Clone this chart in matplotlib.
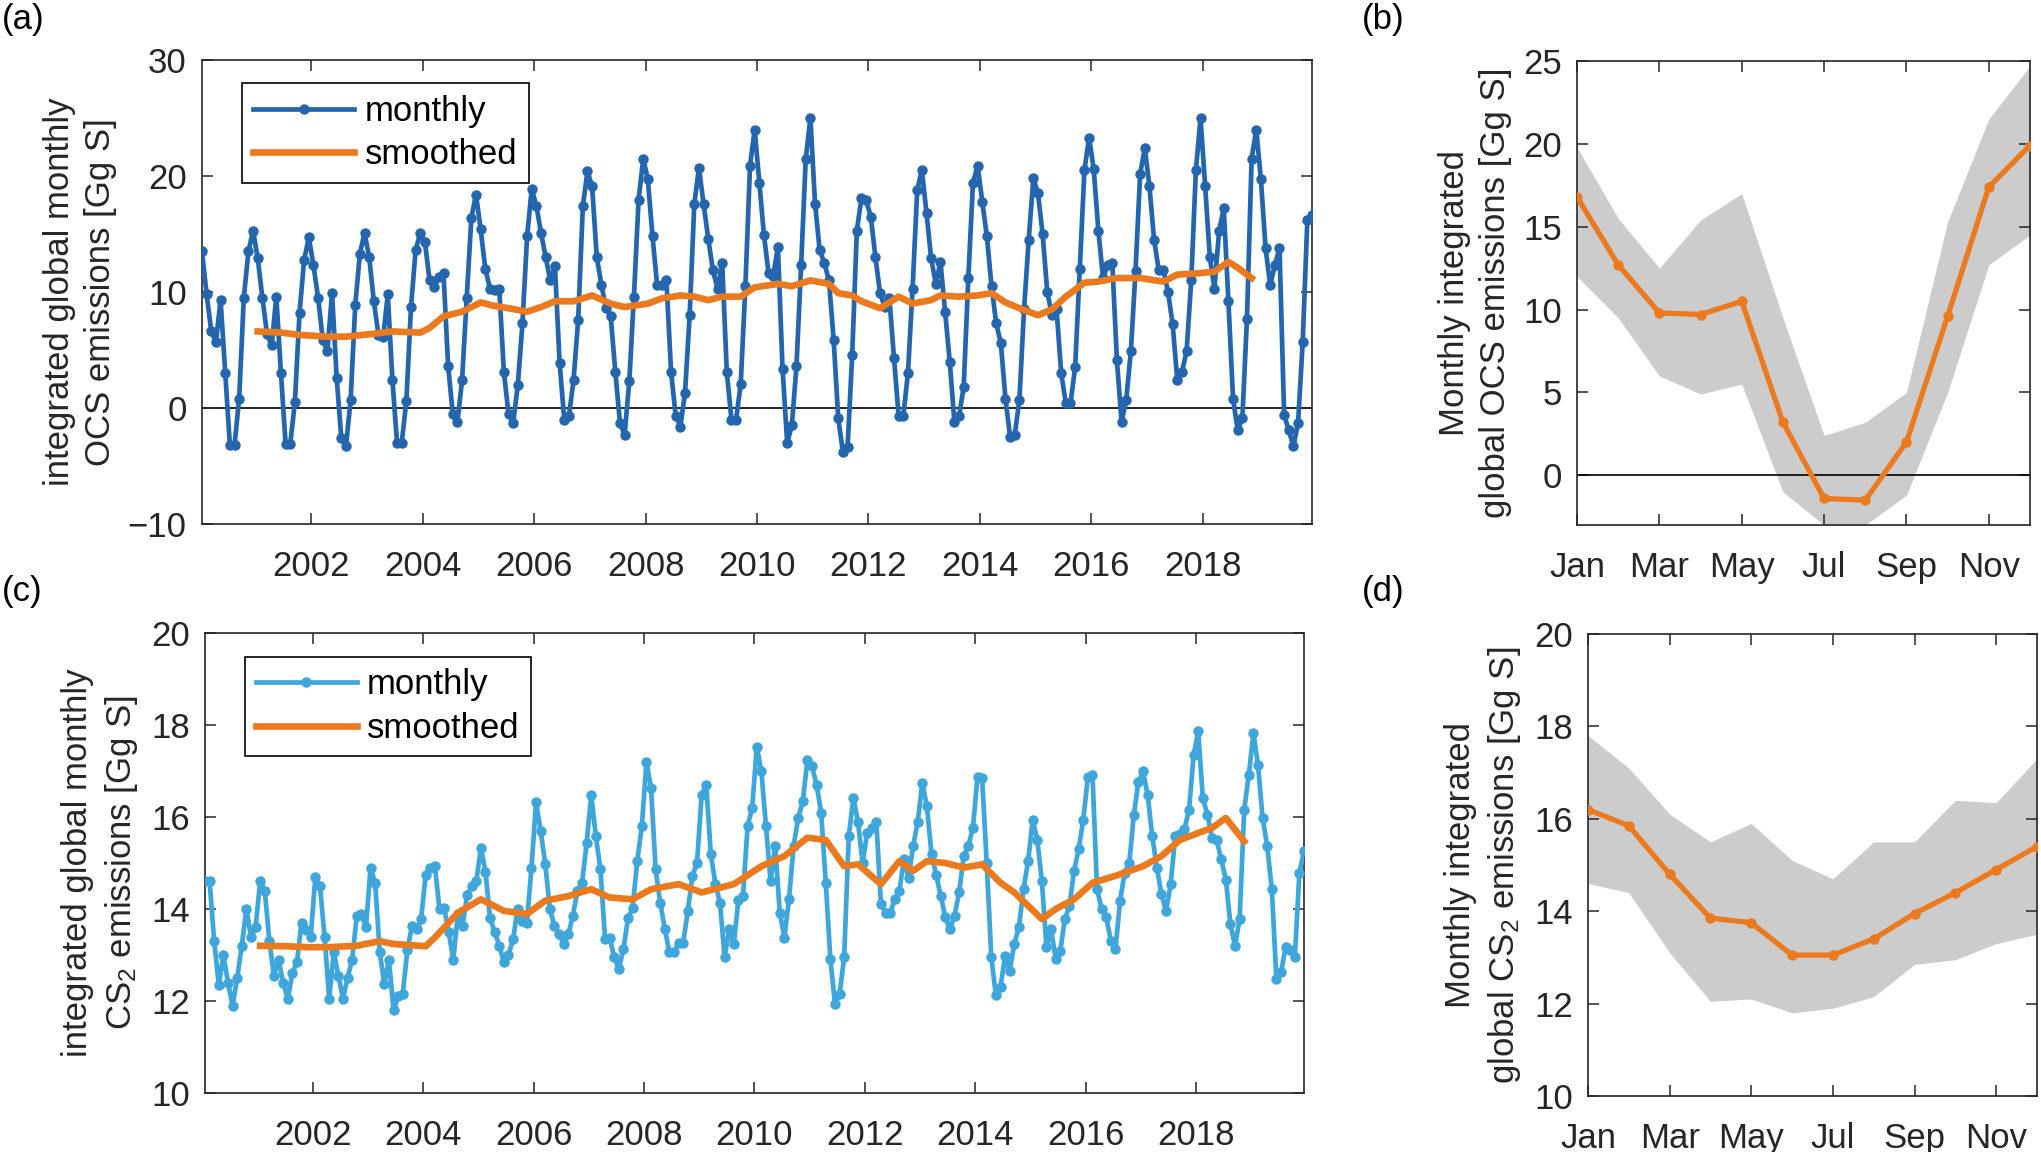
import numpy as np
import matplotlib
matplotlib.use("Agg")
import matplotlib.pyplot as plt

plt.rcParams["font.family"] = ["Liberation Sans", "DejaVu Sans"]
plt.rcParams["mathtext.default"] = "regular"

# monthly OCS emissions, Jan 2000 .. Dec 2019 (one row per year)
ocs_monthly = [
    13.5, 9.8, 6.6, 5.7, 9.3, 3.0, -3.2, -3.2, 0.8, 9.5, 13.5, 15.3,
    12.9, 9.5, 6.4, 5.4, 9.6, 3.0, -3.1, -3.1, 0.5, 8.2, 12.8, 14.7,
    12.3, 9.5, 5.9, 4.9, 9.9, 2.6, -2.6, -3.3, 0.7, 8.9, 13.3, 15.1,
    13.0, 9.2, 6.3, 6.1, 9.8, 2.4, -3.0, -3.0, 0.6, 8.7, 13.6, 15.1,
    14.3, 11.0, 10.4, 11.3, 11.6, 3.6, -0.5, -1.2, 2.4, 9.5, 16.4, 18.4,
    15.4, 12.0, 10.3, 10.2, 10.3, 3.1, -0.5, -1.3, 2.0, 7.3, 14.8, 18.9,
    17.4, 15.1, 13.0, 11.0, 12.2, 3.9, -1.0, -0.7, 2.4, 7.6, 17.4, 20.4,
    19.1, 13.0, 10.6, 8.6, 7.9, 3.1, -1.3, -2.3, 2.3, 9.6, 17.9, 21.5,
    19.7, 14.8, 10.6, 10.6, 11.0, 3.1, -0.7, -1.6, 1.3, 8.0, 17.6, 20.7,
    17.6, 14.6, 11.9, 10.3, 12.5, 3.1, -1.0, -1.0, 2.1, 10.5, 20.9, 24.0,
    19.4, 14.9, 11.6, 11.4, 13.9, 3.4, -3.0, -1.5, 3.6, 12.3, 21.5, 25.0,
    17.6, 13.6, 12.5, 11.0, 5.9, -0.9, -3.8, -3.4, 4.6, 15.3, 18.1, 17.9,
    16.5, 13.0, 9.9, 8.7, 9.5, 4.3, -0.7, -0.7, 3.0, 10.3, 18.8, 20.5,
    16.8, 12.9, 10.7, 12.6, 8.3, 4.0, -1.2, -0.7, 1.8, 11.2, 19.4, 20.9,
    17.8, 14.8, 10.5, 7.3, 5.6, 0.8, -2.5, -2.3, 0.7, 8.5, 14.5, 19.8,
    18.5, 15.0, 10.0, 8.0, 8.5, 3.0, 0.4, 0.4, 3.5, 12.0, 20.5, 23.3,
    20.6, 15.3, 11.2, 12.3, 12.5, 4.1, -1.2, 0.7, 4.9, 11.8, 20.2, 22.4,
    19.1, 14.5, 11.9, 11.9, 10.0, 7.2, 2.4, 3.1, 4.9, 11.0, 20.5, 25.0,
    19.1, 13.0, 10.3, 15.3, 17.2, 9.2, 0.8, -1.9, -0.9, 7.7, 21.5, 24.0,
    19.7, 13.8, 10.6, 12.3, 13.8, -0.6, -1.9, -3.3, -1.3, 5.7, 16.2, 16.6,
]

# monthly CS2 emissions, Jan 2000 .. Dec 2019
cs2_monthly = [
    14.6, 14.6, 13.3, 12.35, 13.0, 12.4, 11.9, 12.5, 13.2, 14.0, 13.4, 13.6,
    14.6, 14.4, 13.3, 12.55, 12.9, 12.4, 12.05, 12.6, 12.85, 13.7, 13.55, 13.4,
    14.7, 14.5, 13.4, 12.05, 13.06, 12.55, 12.05, 12.5, 12.9, 13.85, 13.9, 13.6,
    14.9, 14.57, 13.06, 12.37, 12.9, 11.8, 12.1, 12.15, 13.1, 13.63, 13.56, 13.78,
    14.75, 14.9, 14.93, 13.99, 14.03, 13.5, 12.9, 13.9, 13.63, 14.3, 14.5, 14.6,
    15.33, 14.8, 13.8, 13.5, 13.2, 12.84, 13.0, 13.35, 14.0, 13.74, 13.7, 14.9,
    16.32, 15.7, 14.97, 14.0, 13.63, 13.45, 13.24, 13.45, 13.85, 14.4, 14.57, 15.44,
    16.48, 15.58, 14.86, 13.35, 13.38, 12.95, 12.7, 13.13, 13.8, 14.03, 15.04, 15.8,
    17.2, 16.63, 14.86, 14.14, 13.56, 13.06, 13.06, 13.27, 13.27, 13.96, 14.72, 15.0,
    16.48, 16.7, 15.19, 14.54, 14.14, 12.95, 13.56, 13.24, 14.2, 14.28, 15.8, 16.2,
    17.53, 16.99, 15.8, 14.6, 15.37, 13.92, 13.38, 14.21, 15.37, 15.98, 16.34, 17.23,
    17.1, 16.7, 16.09, 14.57, 12.91, 11.94, 12.15, 12.95, 15.58, 16.41, 15.9, 15.0,
    15.65, 15.76, 15.9, 14.1, 13.92, 13.92, 14.21, 14.39, 15.08, 14.68, 15.37, 15.9,
    16.74, 16.23, 15.19, 14.75, 14.28, 13.82, 13.56, 13.85, 14.36, 15.15, 15.37, 15.76,
    16.88, 16.85, 15.0, 12.95, 12.12, 12.3, 12.98, 12.66, 13.24, 13.6, 14.43, 15.04,
    15.94, 15.5, 14.6, 13.17, 13.56, 12.91, 13.09, 13.78, 14.07, 14.83, 15.3, 15.94,
    16.87, 16.92, 14.43, 14.0, 13.82, 13.31, 13.13, 14.18, 14.79, 15.0, 16.05, 16.77,
    16.99, 16.48, 15.58, 14.9, 14.32, 13.96, 14.54, 15.58, 15.62, 15.73, 16.16, 17.35,
    17.86, 16.41, 16.05, 15.55, 15.5, 15.08, 14.64, 13.67, 13.2, 13.78, 16.16, 16.92,
    17.82, 17.13, 15.98, 15.37, 14.43, 12.48, 12.62, 13.17, 13.1, 12.95, 14.79, 15.26,
]

# smoothed curves, read at month index (0 = Jan 2000)
ocs_smooth_idx = [12, 17, 21, 27, 31, 37, 41, 47, 49, 52, 56, 60, 63, 66, 70, 73, 76, 80, 84, 88,
                  91, 96, 99, 103, 106, 109, 112, 116, 119, 124, 127, 131, 135, 137, 140, 142, 146, 150, 153, 157,
                  159, 163, 167, 170, 173, 176, 180, 183, 186, 190, 193, 197, 202, 207, 210, 214, 218, 221, 223, 226]
ocs_smooth_val = [6.6, 6.5, 6.3, 6.15, 6.15, 6.4, 6.6, 6.5, 6.9, 7.9, 8.3, 9.1, 8.8, 8.6, 8.3, 8.7, 9.2, 9.2, 9.7, 9.0,
                  8.7, 9.0, 9.45, 9.7, 9.6, 9.3, 9.6, 9.6, 10.4, 10.7, 10.5, 11.0, 10.7, 9.9, 9.7, 9.2, 8.6, 9.6, 9.0, 9.3,
                  9.7, 9.6, 9.7, 9.9, 9.1, 8.6, 8.0, 8.5, 9.6, 10.8, 10.9, 11.2, 11.2, 10.9, 11.5, 11.6, 11.75, 12.6, 12.1, 11.2]

cs2_smooth_idx = [12, 18, 22, 27, 33, 38, 41, 48, 50, 55, 60, 65, 70, 74, 79, 84, 88, 93, 97, 103,
                  108, 115, 121, 126, 131, 135, 139, 142, 147, 151, 154, 157, 161, 165, 169, 173, 176, 182, 185, 189,
                  193, 198, 204, 208, 212, 217, 219, 222, 226]
cs2_smooth_val = [13.2, 13.19, 13.17, 13.17, 13.2, 13.3, 13.24, 13.19, 13.38, 13.92, 14.21, 13.96, 13.89, 14.18, 14.28, 14.43, 14.25, 14.21, 14.43, 14.54,
                  14.36, 14.54, 14.93, 15.15, 15.55, 15.5, 14.93, 14.97, 14.54, 15.04, 14.83, 15.04, 15.0, 14.9, 14.97, 14.57, 14.36, 13.78, 14.0, 14.21,
                  14.57, 14.72, 14.93, 15.15, 15.5, 15.69, 15.76, 15.98, 15.47]

# mean seasonal cycle with spread
months = list(range(1, 13))
month_ticks = [1, 3, 5, 7, 9, 11]
month_labels = ["Jan", "Mar", "May", "Jul", "Sep", "Nov"]

ocs_clim = [16.8, 12.7, 9.8, 9.7, 10.5, 3.2, -1.4, -1.5, 2.0, 9.6, 17.4, 19.9]
ocs_clim_hi = [19.8, 15.5, 12.5, 15.4, 17.0, 9.5, 2.4, 3.2, 5.0, 15.3, 21.5, 24.7]
ocs_clim_lo = [12.0, 9.5, 6.0, 4.9, 5.5, -1.0, -3.0, -3.0, -1.2, 5.0, 12.7, 14.5]

cs2_clim = [16.2, 15.85, 14.8, 13.85, 13.75, 13.05, 13.05, 13.4, 13.95, 14.4, 14.9, 15.4]
cs2_clim_hi = [17.8, 17.1, 16.1, 15.5, 15.9, 15.1, 14.7, 15.5, 15.5, 16.4, 16.35, 17.3]
cs2_clim_lo = [14.6, 14.4, 13.1, 12.05, 12.1, 11.8, 11.9, 12.15, 12.85, 12.95, 13.3, 13.5]

FS = 25
BLUE_OCS = "#2466ad"
BLUE_CS2 = "#3ea6db"
ORANGE = "#eb7a1e"
GRAY = "#cccccc"
AXC = "#262626"

W, H = 2041, 1152


def rect(left, top, right, bottom):
    return [left / W, 1 - bottom / H, (right - left) / W, (bottom - top) / H]


def style(ax):
    for s in ax.spines.values():
        s.set_color(AXC)
        s.set_linewidth(1.2)
    ax.tick_params(direction="in", length=8, width=1.1, colors=AXC,
                   labelsize=FS, top=True, right=True)
    ax.tick_params(axis="x", pad=19)
    ax.tick_params(axis="y", pad=11)


def add_legend(ax, top):
    leg = ax.legend(loc="upper left", bbox_to_anchor=(0.036, top), borderaxespad=0, fontsize=FS,
                    fancybox=False, edgecolor="k", framealpha=1, handlelength=2.9,
                    handletextpad=0.3, labelspacing=0.3, borderpad=0.33)
    leg.get_frame().set_linewidth(1.2)


fig = plt.figure(figsize=(W / 100, H / 100), dpi=100)

t = 2000 + (np.arange(240) + 0.5) / 12.0
ts_ocs = 2000 + (np.array(ocs_smooth_idx) + 0.5) / 12.0
ts_cs2 = 2000 + (np.array(cs2_smooth_idx) + 0.5) / 12.0

# (a) OCS time series
ax_a = fig.add_axes(rect(202, 60, 1312, 524))
ax_a.axhline(0, color="k", lw=1.2, zorder=1)
ax_a.plot(t, ocs_monthly, color=BLUE_OCS, lw=3.4, marker="o", ms=6.5, label="monthly", zorder=3)
ax_a.plot(ts_ocs, ocs_smooth_val, color=ORANGE, lw=4.8, label="smoothed", zorder=4)
ax_a.set_xlim(t[0], t[-1])
ax_a.set_ylim(-10, 30)
ax_a.set_xticks(range(2002, 2019, 2))
ax_a.set_yticks(range(-10, 31, 10))
ax_a.set_ylabel("integrated global monthly\nOCS emissions [Gg S]", fontsize=FS,
                linespacing=1.3, labelpad=8, color=AXC)
style(ax_a)
add_legend(ax_a, 0.95)

# (c) CS2 time series
ax_c = fig.add_axes(rect(205, 633, 1304, 1093))
ax_c.plot(t, cs2_monthly, color=BLUE_CS2, lw=3.4, marker="o", ms=6.5, label="monthly", zorder=3)
ax_c.plot(ts_cs2, cs2_smooth_val, color=ORANGE, lw=4.8, label="smoothed", zorder=4)
ax_c.set_xlim(t[0], t[-1])
ax_c.set_ylim(10, 20)
ax_c.set_xticks(range(2002, 2019, 2))
ax_c.set_yticks(range(10, 21, 2))
ax_c.set_ylabel("integrated global monthly\nCS$_2$ emissions [Gg S]", fontsize=FS,
                linespacing=1.3, labelpad=8, color=AXC)
style(ax_c)
add_legend(ax_c, 0.948)

# (b) OCS seasonal cycle
ax_b = fig.add_axes(rect(1577, 61, 2030, 525))
ax_b.fill_between(months, ocs_clim_lo, ocs_clim_hi, color=GRAY, lw=0, zorder=1)
ax_b.axhline(0, color="k", lw=1.2, zorder=2)
ax_b.plot(months, ocs_clim, color=ORANGE, lw=3.8, marker="o", ms=6.5, zorder=3)
ax_b.set_xlim(1, 12)
ax_b.set_ylim(-3, 25)
ax_b.set_xticks(month_ticks)
ax_b.set_xticklabels(month_labels)
ax_b.set_yticks(range(0, 26, 5))
ax_b.set_ylabel("Monthly integrated\nglobal OCS emissions [Gg S]", fontsize=FS,
                linespacing=1.3, labelpad=8, color=AXC)
style(ax_b)

# (d) CS2 seasonal cycle
ax_d = fig.add_axes(rect(1588, 634, 2037, 1096))
ax_d.fill_between(months, cs2_clim_lo, cs2_clim_hi, color=GRAY, lw=0, zorder=1)
ax_d.plot(months, cs2_clim, color=ORANGE, lw=3.8, marker="o", ms=6.5, zorder=3)
ax_d.set_xlim(1, 12)
ax_d.set_ylim(10, 20)
ax_d.set_xticks(month_ticks)
ax_d.set_xticklabels(month_labels)
ax_d.set_yticks(range(10, 21, 2))
ax_d.set_ylabel("Monthly integrated\nglobal CS$_2$ emissions [Gg S]", fontsize=FS,
                linespacing=1.3, labelpad=8, color=AXC)
style(ax_d)

for lab, x, y in [("(a)", 2, 20), ("(b)", 1362, 20), ("(c)", 2, 591), ("(d)", 1362, 591)]:
    fig.text(x / W, 1 - y / H, lab, fontsize=FS, ha="left", va="center", color="k")

fig.savefig("out.png", dpi=100)
